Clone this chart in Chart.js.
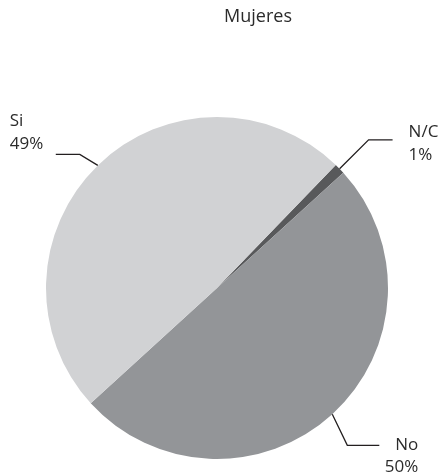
<!DOCTYPE html>
<html>
<head>
<meta charset="utf-8">
<script src="https://cdn.jsdelivr.net/npm/chart.js@4"></script>
<style>
  html, body { margin: 0; padding: 0; background: #fff; }
  #wrap { width: 446px; height: 476px; position: relative; }
</style>
</head>
<body>
<div id="wrap"><canvas id="c" width="446" height="476"></canvas></div>
<script>
// ---- data ----
const title = "Mujeres";
const categories = ["N/C", "No", "Si"];
const values = [1, 50, 49];
const valueLabels = ["1%", "50%", "49%"];
const colors = ["#58595b", "#939598", "#d1d2d4"];

// ---- label layout (styling / placement only) ----
const labelLayout = [
  { elbow: [29, -29], run: 24, textDx: 16, align: "left",  nameDy: -3,  valueDy: 20 },
  { elbow: [15, 31],  run: 32, textDx: 39, align: "right", nameDy: 5,   valueDy: 27 },
  { elbow: [-18, -11], run: -24, textDx: -46, align: "left", nameDy: -28, valueDy: -5 }
];

const FONT = "'Open Sans', Lato, sans-serif";
const TEXT_COLOR = "#2b2b2b";

const labelPlugin = {
  id: "leaderLabels",
  afterDatasetsDraw(chart) {
    const ctx = chart.ctx;
    const meta = chart.getDatasetMeta(0);
    ctx.save();
    meta.data.forEach((arc, i) => {
      const p = arc.getProps(["x", "y", "startAngle", "endAngle", "outerRadius"], true);
      const mid = (p.startAngle + p.endAngle) / 2;
      const sx = p.x + Math.cos(mid) * p.outerRadius;
      const sy = p.y + Math.sin(mid) * p.outerRadius;
      const L = labelLayout[i];
      const ex = sx + L.elbow[0];
      const ey = sy + L.elbow[1];
      const hx = ex + L.run;
      ctx.beginPath();
      ctx.moveTo(sx, sy);
      ctx.lineTo(ex, ey);
      ctx.lineTo(hx, ey);
      ctx.strokeStyle = "#231f20";
      ctx.lineWidth = 1.3;
      ctx.stroke();

      ctx.fillStyle = TEXT_COLOR;
      ctx.font = "17px " + FONT;
      ctx.textBaseline = "alphabetic";
      ctx.textAlign = L.align;
      const tx = hx + L.textDx;
      ctx.fillText(categories[i], tx, ey + L.nameDy);
      ctx.fillText(valueLabels[i], tx, ey + L.valueDy);
    });
    // title
    ctx.fillStyle = TEXT_COLOR;
    ctx.font = "18px " + FONT;
    ctx.textAlign = "center";
    ctx.textBaseline = "alphabetic";
    ctx.fillText(title, 258, 22);
    ctx.restore();
  }
};

new Chart(document.getElementById("c"), {
  type: "pie",
  data: {
    labels: categories,
    datasets: [{
      data: values,
      backgroundColor: colors,
      borderWidth: 0,
      hoverOffset: 0,
      offset: 0
    }]
  },
  options: {
    responsive: false,
    animation: false,
    events: [],
    rotation: 44,
    layout: { padding: { left: 46, right: 58, top: 117, bottom: 17 } },
    plugins: {
      legend: { display: false },
      tooltip: { enabled: false },
      title: { display: false }
    }
  },
  plugins: [labelPlugin]
});
</script>
</body>
</html>
